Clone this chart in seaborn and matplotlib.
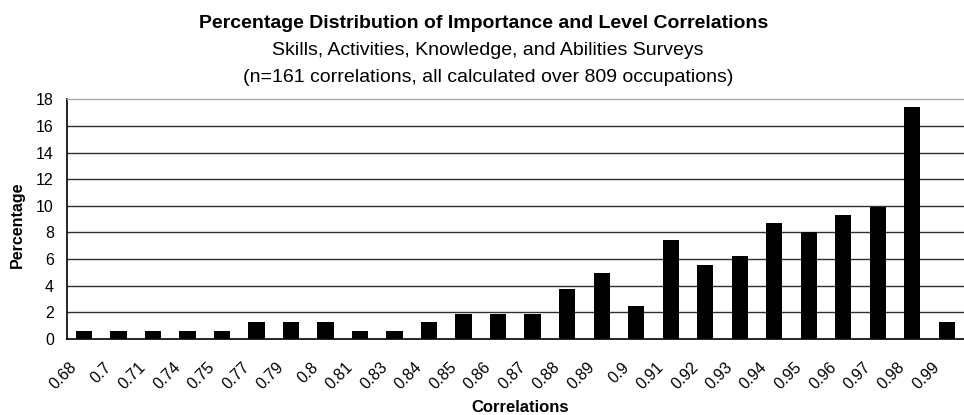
import matplotlib
matplotlib.use("Agg")
import matplotlib.pyplot as plt
import matplotlib.transforms as mtransforms
import seaborn as sns
import pandas as pd
import numpy as np

categories = ["0.68", "0.7", "0.71", "0.74", "0.75", "0.77", "0.79", "0.8", "0.81",
              "0.83", "0.84", "0.85", "0.86", "0.87", "0.88", "0.89", "0.9", "0.91",
              "0.92", "0.93", "0.94", "0.95", "0.96", "0.97", "0.98", "0.99"]
percentages = [0.62, 0.62, 0.62, 0.62, 0.62, 1.24, 1.24, 1.24, 0.62,
               0.62, 1.24, 1.86, 1.86, 1.86, 3.73, 4.97, 2.48, 7.45,
               5.59, 6.21, 8.70, 8.07, 9.32, 9.94, 17.39, 1.24]
yticks = [0, 2, 4, 6, 8, 10, 12, 14, 16, 18]

title = "Percentage Distribution of Importance and Level Correlations"
subtitle1 = "Skills, Activities, Knowledge, and Abilities Surveys"
subtitle2 = "(n=161 correlations, all calculated over 809 occupations)"
xlabel = "Correlations"
ylabel = "Percentage"

sns.set_style("white")
plt.rcParams["font.family"] = ["Liberation Sans", "DejaVu Sans"]
plt.rcParams["text.color"] = "black"
plt.rcParams["axes.labelcolor"] = "black"
plt.rcParams["xtick.color"] = "black"
plt.rcParams["ytick.color"] = "black"

df = pd.DataFrame({"cat": categories, "pct": percentages})

W, H = 964, 415
fig = plt.figure(figsize=(W / 100, H / 100), dpi=100)
ax = fig.add_axes([66.7 / W, 76 / H, 1 - 66.7 / W, 239.7 / H])

sns.barplot(data=df, x="cat", y="pct", order=categories, color="black",
            width=0.47, saturation=1, ax=ax, edgecolor="black", linewidth=0)

ax.set_ylim(0, 18)
ax.set_xlim(-0.5, 25.19)
ax.set_yticks(yticks)
ax.set_yticklabels([str(v) for v in yticks], fontsize=11.5)
for v in yticks[1:-1]:
    ax.axhline(v, color="#303030", linewidth=1.0, zorder=0)

n = len(categories)
ax.set_xticks(np.arange(n))
ax.set_xticklabels(categories, rotation=45, ha="right", va="center",
                   rotation_mode="anchor", fontsize=11.5)
ax.tick_params(axis="x", which="major", length=0, pad=18.7)
offset = mtransforms.ScaledTranslation(-9.5 / 100, 0, fig.dpi_scale_trans)
for lbl in ax.get_xticklabels():
    lbl.set_transform(lbl.get_transform() + offset)
ax.set_xticks(np.arange(n + 1) - 0.5, minor=True)
ax.tick_params(axis="x", which="minor", length=4.3, width=1, color="black", direction="out")
ax.tick_params(axis="y", length=4.3, width=1, color="black", direction="out", pad=5)

for s in ["left", "bottom"]:
    ax.spines[s].set_color("black")
    ax.spines[s].set_linewidth(1.2)
ax.spines["top"].set_color("#aaaaaa")
ax.spines["top"].set_linewidth(1.0)
ax.spines["right"].set_visible(False)

ax.set_xlabel("")
ax.set_ylabel("")
fig.text(520 / W, 1 - 412 / H, xlabel, ha="center", va="baseline",
         fontsize=12, fontweight="bold")
fig.text(17 / W, 1 - 225 / H, ylabel, ha="center", va="center", rotation=90,
         fontsize=11.5, fontweight="bold")

fig.text(484 / W, 1 - 28 / H, title, ha="center", va="baseline", fontsize=14, fontweight="bold")
fig.text(488 / W, 1 - 55 / H, subtitle1, ha="center", va="baseline", fontsize=14)
fig.text(488 / W, 1 - 82 / H, subtitle2, ha="center", va="baseline", fontsize=14)

fig.savefig("out.png", dpi=100)
